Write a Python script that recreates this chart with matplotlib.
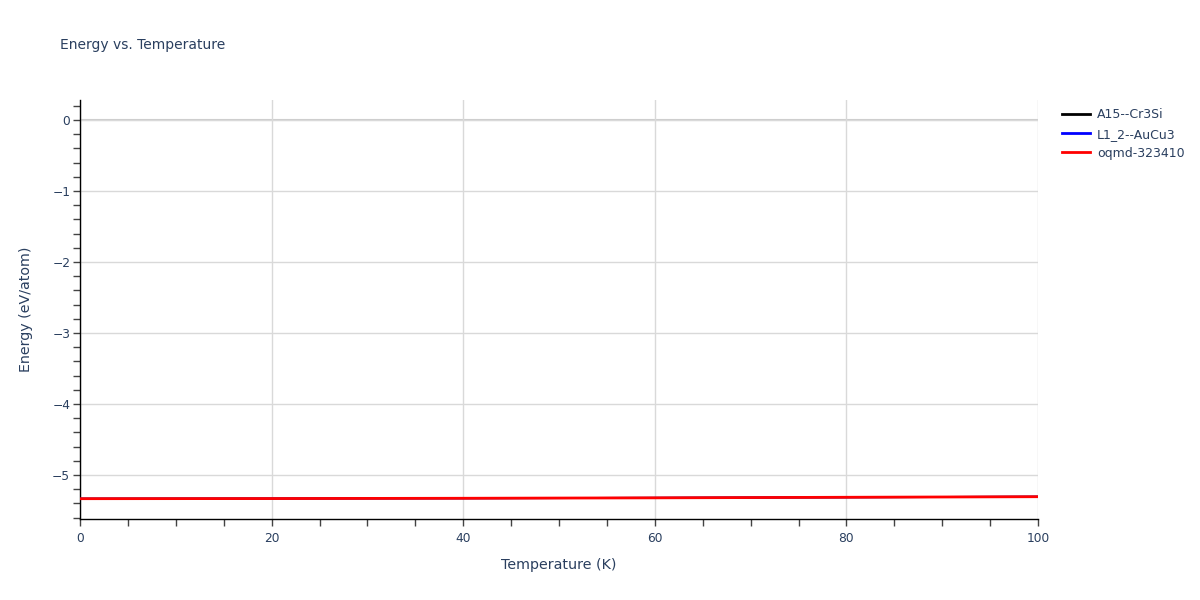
import matplotlib
matplotlib.use("Agg")
import matplotlib.pyplot as plt
from matplotlib.ticker import MultipleLocator

temperature = [0, 10, 20, 30, 40, 50, 60, 70, 80, 90, 100]
energy_a15 = [-5.334, -5.333, -5.332, -5.330, -5.328, -5.325, -5.322, -5.318, -5.314, -5.310, -5.306]
energy_l12 = [-5.334, -5.333, -5.332, -5.330, -5.328, -5.325, -5.322, -5.318, -5.314, -5.310, -5.306]
energy_oqmd = [-5.334, -5.333, -5.332, -5.330, -5.328, -5.325, -5.322, -5.318, -5.314, -5.310, -5.306]
series_names = ["A15--Cr3Si", "L1_2--AuCu3", "oqmd-323410"]
series_colors = ["black", "blue", "red"]

plt.rcParams["font.family"] = ["DejaVu Sans"]
text_color = "#2a3f5f"
grid_color = "#d9d9d9"

fig = plt.figure(figsize=(12, 6), dpi=100)
ax = fig.add_axes([80/1200, 1 - 519/600, (1038-80)/1200, (519-100)/600])

for vals, name, col, lw in zip([energy_a15, energy_l12, energy_oqmd], series_names,
                               series_colors, [1.4, 1.4, 2]):
    ax.plot(temperature, vals, color=col, lw=lw, label=name, zorder=3)

ax.set_xlim(0, 100)
ax.set_ylim(-5.62, 0.282)
ax.xaxis.set_major_locator(MultipleLocator(20))
ax.xaxis.set_minor_locator(MultipleLocator(5))
ax.yaxis.set_major_locator(MultipleLocator(1))
ax.yaxis.set_minor_locator(MultipleLocator(0.2))

ax.grid(True, which="major", color=grid_color, lw=1, zorder=0)
ax.axhline(0, color="#cccccc", lw=1.5, zorder=1)

for s in ["top", "right"]:
    ax.spines[s].set_visible(False)
for s in ["left", "bottom"]:
    ax.spines[s].set_color("black")
    ax.spines[s].set_linewidth(1)

ax.tick_params(which="both", direction="out", length=5, width=1, color="#444444",
               labelcolor=text_color, labelsize=8.8)
ax.tick_params(axis="x", which="major", pad=4)
ax.tick_params(axis="y", which="major", pad=2)

ax.yaxis.set_major_formatter(matplotlib.ticker.FuncFormatter(
    lambda v, p: ("\u2212" + f"{abs(v):g}") if v < -1e-9 else f"{abs(v):g}"))

ax.set_xlabel("Temperature (K)", color=text_color, fontsize=10.3, labelpad=10)
ax.set_ylabel("Energy (eV/atom)", color=text_color, fontsize=10.3, labelpad=14)

fig.text(60/1200, 1 - 45/600, "Energy vs. Temperature", color=text_color,
         fontsize=10, va="center", ha="left")

leg = ax.legend(loc="upper left", bbox_to_anchor=(1.0133, 1.007), frameon=False,
                fontsize=9, handlelength=2.25, labelspacing=0.5, handletextpad=0.55)
for t in leg.get_texts():
    t.set_color(text_color)
for h in leg.get_lines():
    h.set_linewidth(2)

fig.savefig("out.png", dpi=100)
